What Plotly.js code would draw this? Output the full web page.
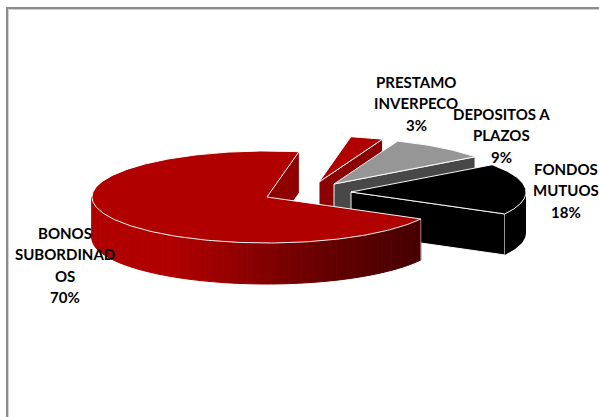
<!DOCTYPE html>
<html>
<head>
<meta charset="utf-8">
<script src="https://cdn.plot.ly/plotly-3.0.1.min.js"></script>
<style>html,body{margin:0;padding:0;background:#fff;overflow:hidden}#chart{width:599px;height:417px}</style>
</head>
<body>
<div id="chart"></div>
<script>
// Portfolio shares, in percent, clockwise from the first slice.
const categories = ['BONOS SUBORDINADOS', 'PRESTAMO INVERPECO', 'DEPOSITOS A PLAZOS', 'FONDOS MUTUOS'];
const shares = [70, 3, 9, 18];
const labelLines = [
  ['BONOS', 'SUBORDINAD', 'OS'],
  ['PRESTAMO', 'INVERPECO'],
  ['DEPOSITOS A', 'PLAZOS'],
  ['FONDOS', 'MUTUOS']
];

// Slice colours.
const topColors = ['#b00000', '#b00000', '#969696', '#000000'];
const faceColors = ['#8f0000', '#8b0000', '#484848', '#000000'];

// Projection of the tilted pie onto the plot.
const centre = {x: 267, y: 197};
const radiusX = 175, radiusY = 46, depth = 41;
const firstAngle = 118.5;
const explode = [[0, 0], [52, -15], [67, -13], [84, -5]];
const labelCentres = [[64.5, 233], [416, 82], [501.5, 114], [566, 169]];
const lineStep = 21.4;

const rad = d => d * Math.PI / 180;
const rim = (c, deg, drop) => [
  c.x + radiusX * Math.sin(rad(deg)),
  c.y - radiusY * Math.cos(rad(deg)) + (drop || 0)
];

function polygon(points, fill, line, width) {
  return {
    type: 'scatter', mode: 'lines', fill: 'toself', fillcolor: fill,
    x: points.map(p => p[0]), y: points.map(p => p[1]),
    line: {color: line || fill, width: width === undefined ? 1 : width},
    hoverinfo: 'skip', showlegend: false
  };
}

function arc(c, a, b, drop) {
  const pts = [];
  const n = Math.max(2, Math.ceil(Math.abs(b - a)));
  for (let i = 0; i <= n; i++) pts.push(rim(c, a + (b - a) * i / n, drop));
  return pts;
}

// Shading of the long outer wall, dark towards the right-hand side.
const wallStops = [[90, [176, 0, 0]], [170, [176, 0, 0]], [220, [155, 0, 0]], [300, [112, 0, 0]], [340, [96, 0, 0]], [421, [70, 0, 0]]];
function wallColor(x) {
  for (let i = 1; i < wallStops.length; i++) {
    if (x <= wallStops[i][0]) {
      const [x0, c0] = wallStops[i - 1], [x1, c1] = wallStops[i];
      const t = Math.max(0, (x - x0) / (x1 - x0));
      const c = c0.map((v, k) => Math.round(v + (c1[k] - v) * t));
      return `rgb(${c[0]},${c[1]},${c[2]})`;
    }
  }
  return 'rgb(70,0,0)';
}

const total = shares.reduce((a, b) => a + b, 0);
let cursor = firstAngle;
const slices = shares.map((s, i) => {
  // Angles are kept in one turn so the wall test below reads simply.
  let start = cursor;
  if (start >= 360) start -= 360;
  const end = start + s / total * 360;
  cursor = end;
  return {i, start, end, c: {x: centre.x + explode[i][0], y: centre.y + explode[i][1]}};
});

const traces = [];
const rimLine = 'rgba(255,255,255,0.95)';

// Back slices first, the large slice last so that it overlaps the others.
[1, 2, 3, 0].forEach(idx => {
  const {i, start, end, c} = slices[idx];
  const apex = [c.x, c.y], apexLow = [c.x, c.y + depth];

  if (i === 0) {
    // Cut face seen inside the notch, and the shaded outer wall.
    const e = rim(c, end), eLow = rim(c, end, depth);
    traces.push(polygon([apex, e, eLow, apexLow, apex], faceColors[i], faceColors[i], 0));
    for (let a = start; a < 270; a += 2) {
      const b = Math.min(a + 2, 270);
      const pts = arc(c, a, b).concat(arc(c, b, a, depth));
      pts.push(pts[0]);
      traces.push(polygon(pts, wallColor((rim(c, a)[0] + rim(c, b)[0]) / 2)));
    }
    // Pale edge where the wall ends on the right.
    const s0 = rim(c, start), s0Low = rim(c, start, depth);
    traces.push({
      type: 'scatter', mode: 'lines', x: [s0[0], s0Low[0]], y: [s0[1], s0Low[1]],
      line: {color: 'rgba(255,255,255,0.5)', width: 1}, hoverinfo: 'skip', showlegend: false
    });
  } else {
    // Cut face on the clockwise edge of the slice.
    const s2 = rim(c, end), s2Low = rim(c, end, depth);
    traces.push(polygon([apex, s2, s2Low, apexLow, apex], faceColors[i], rimLine, 1));
    if (start < 90 && end > 90) {
      const pts = arc(c, 90, end).concat(arc(c, end, 90, depth));
      pts.push(pts[0]);
      traces.push(polygon(pts, faceColors[i], faceColors[i], 0));
    }
  }

  const top = [apex].concat(arc(c, start, end));
  top.push(apex);
  traces.push(polygon(top, topColors[i], rimLine, 1));
});

// Category labels, one annotation per line, with the share underneath.
const annotations = [];
labelLines.forEach((lines, i) => {
  lines.concat([shares[i] + '%']).forEach((text, k) => {
    annotations.push({
      x: labelCentres[i][0], y: labelCentres[i][1] + k * lineStep,
      xref: 'x', yref: 'y', text, showarrow: false,
      xanchor: 'center', yanchor: 'middle',
      font: {family: 'Lato, "Open Sans", sans-serif', size: 15, color: '#000000', weight: 700}
    });
  });
});

const layout = {
  width: 599, height: 417,
  margin: {l: 0, r: 0, t: 0, b: 0},
  paper_bgcolor: '#ffffff', plot_bgcolor: '#ffffff',
  showlegend: false,
  xaxis: {range: [0, 599], visible: false, fixedrange: true},
  yaxis: {range: [417, 0], visible: false, fixedrange: true},
  annotations,
  // Chart-area frame; its right and bottom edges run past the page.
  shapes: [
    {type: 'rect', layer: 'below', x0: 8.5, y0: 9.5, x1: 700, y1: 700, line: {color: '#d0d0d0', width: 1}},
    {type: 'rect', layer: 'below', x0: 7, y0: 8, x1: 700, y1: 700, line: {color: '#8c8c8c', width: 2}}
  ],
  meta: {categories}
};

Plotly.newPlot('chart', traces, layout, {displayModeBar: false, staticPlot: true});
</script>
</body>
</html>
